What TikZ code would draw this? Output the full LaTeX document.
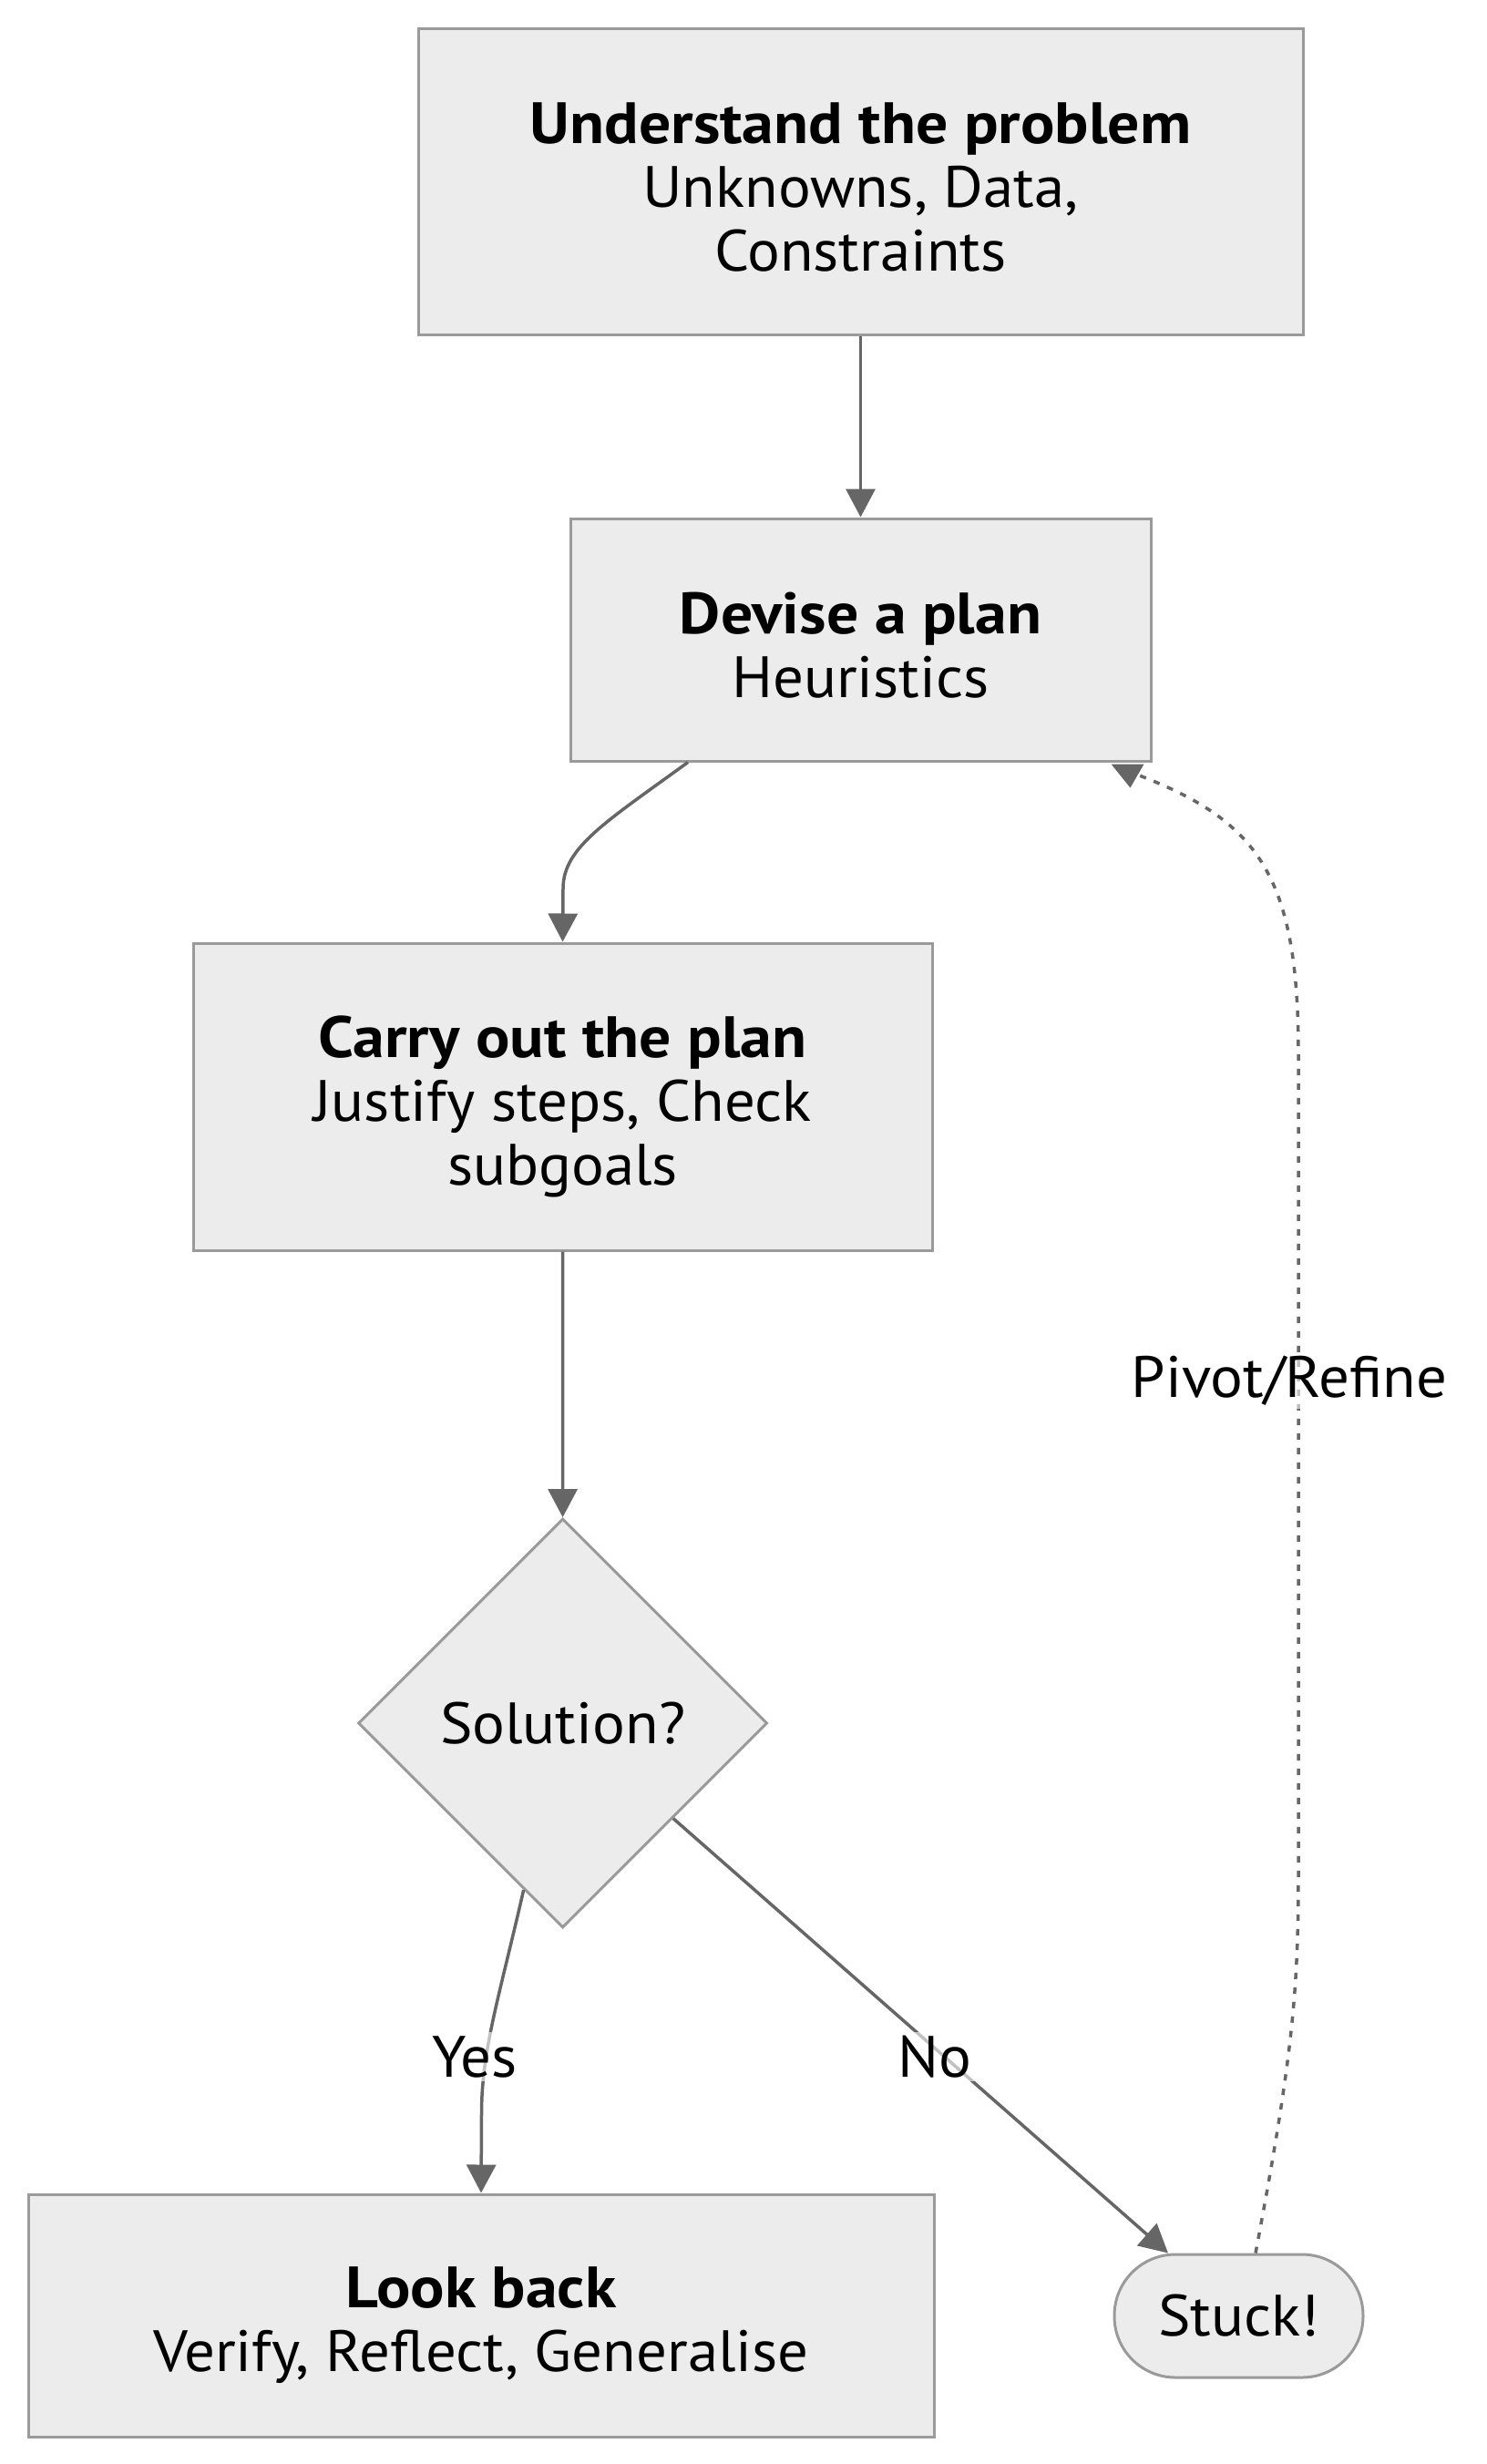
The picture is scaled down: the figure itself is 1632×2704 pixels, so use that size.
\documentclass[tikz,border=0pt]{standalone}
\usepackage{fontspec}
\setmainfont{PT Sans}[FakeStretch=1.045]
\newfontfamily\titlefont{PT Sans}[FakeStretch=1.09]
\usetikzlibrary{shapes.geometric,arrows.meta,calc}
\definecolor{nodefill}{HTML}{ECECEC}
\definecolor{nodeline}{HTML}{9A9A9A}
\definecolor{edgeline}{HTML}{666666}
\newcommand{\ttl}[2]{\rule{0pt}{#1pt}{\titlefont\bfseries #2}}
\begin{document}
\begin{tikzpicture}[x=1pt,y=-1pt,
  every node/.style={font=\fontsize{64}{70}\selectfont},
  box/.style={draw=nodeline, fill=nodefill, line width=3pt, inner sep=0pt, align=center},
  edge/.style={draw=edgeline, line width=3.5pt, -{Triangle[length=31pt,width=32pt]}},
  dotedge/.style={draw=edgeline, line width=3.5pt, dash pattern=on 7pt off 9pt},
  lbl/.style={fill=white, fill opacity=0.6, text opacity=1, inner sep=4pt}
]
\fill[white] (0,0) rectangle (1632,2704);
\useasboundingbox (0,0) rectangle (1632,2704);

\node[box, minimum width=971pt, minimum height=336pt] (understand) at (944.5,199)
  {\ttl{57}{Understand the problem}\\Unknowns, Data,\\Constraints};
\node[box, minimum width=637pt, minimum height=266pt] (devise) at (944.5,702)
  {\ttl{57}{Devise a plan}\\Heuristics};
\node[box, minimum width=811pt, minimum height=337pt] (carry) at (617.5,1203.5)
  {\ttl{67}{Carry out the plan}\\Justify steps, Check\\subgoals};
\node[box, shape=diamond, minimum width=449pt, minimum height=449pt] (sol) at (617.6,1891)
  {Solution?};
\node[box, minimum width=994pt, minimum height=266pt] (look) at (528,2541)
  {\ttl{66}{Look back}\\Verify, Reflect, Generalise};
\node[box, minimum width=273pt, minimum height=135pt, rounded corners=67pt] (stuck) at (1359.5,2541.5)
  {Stuck!};

\draw[edge] (understand.south) -- (devise.north);
\draw[edge] ([xshift=-189.5pt]devise.south) .. controls (665,902) and (618,930) .. (618,975) -- (carry.north);
\draw[edge] (carry.south) -- (sol.north);
\draw[edge] ($(sol.south)!0.19!(sol.west)$) .. controls (547,2195) and (528.5,2250) .. (528.5,2320) -- (look.north);
\draw[edge] ($(sol.south)!0.537!(sol.east)$) -- ([xshift=-77.5pt]stuck.north);
\draw[dotedge] ([xshift=18.5pt]stuck.north) .. controls (1420,2250) and (1425,2180) .. (1425,2050)
  -- (1425,1150) .. controls (1424,960) and (1380,900) .. ([xshift=-18pt,yshift=-13pt]devise.south east);
\fill[edgeline] ([xshift=-45pt,yshift=-2pt]devise.south east) -- ([xshift=-9pt,yshift=-2pt]devise.south east)
  -- ([xshift=-24pt,yshift=-28pt]devise.south east) -- cycle;

\node[lbl] (lblyes) at (521,2257) {Yes};
\node[lbl] (lblno) at (1026,2257) {No};
\node[lbl] (lblpivot) at (1415,1515) {Pivot/Refine};
\end{tikzpicture}
\end{document}
